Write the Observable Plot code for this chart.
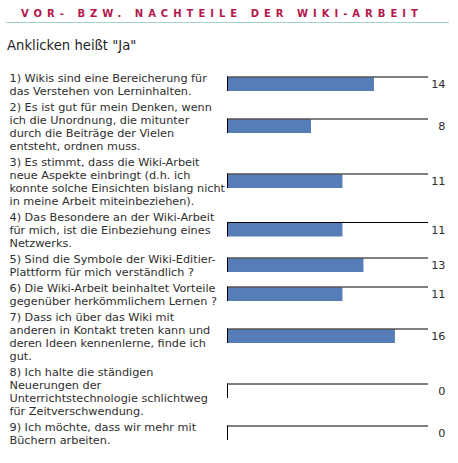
<!DOCTYPE html>
<html>
<head>
<meta charset="utf-8">
<script src="https://cdn.jsdelivr.net/npm/d3@7"></script>
<script src="https://cdn.jsdelivr.net/npm/@observablehq/plot@0.6"></script>
<style>
  body { margin: 0; background: #fff; font-family: "DejaVu Sans", Verdana, sans-serif; }
  #page { position: relative; width: 458px; height: 463px; overflow: hidden; }
  #title {
    position: absolute; left: 21px; top: 8px;
    font-size: 10px; font-weight: bold; letter-spacing: 5px;
    color: #b3174b; white-space: nowrap;
  }
  #rule { position: absolute; left: 6px; top: 22px; width: 443px; height: 1px; background: #a2d2cb; }
  #subtitle { position: absolute; left: 7px; top: 38px; font-size: 13.2px; color: #1e1e1e; }
  #chart { position: absolute; left: 0; top: 0; }
</style>
</head>
<body>
<div id="page">
  <div id="chart"></div>
  <div id="title">VOR- BZW. NACHTEILE DER WIKI-ARBEIT</div>
  <div id="rule"></div>
  <div id="subtitle">Anklicken heißt "Ja"</div>
</div>
<script>
// Fragen (eine Zeile pro Array-Eintrag, wie im Original umbrochen)
const questions = [
  ["1) Wikis sind eine Bereicherung für", "das Verstehen von Lerninhalten."],
  ["2) Es ist gut für mein Denken, wenn", "ich die Unordnung, die mitunter", "durch die Beiträge der Vielen", "entsteht, ordnen muss."],
  ["3) Es stimmt, dass die Wiki-Arbeit", "neue Aspekte einbringt (d.h. ich", "konnte solche Einsichten bislang nicht", "in meine Arbeit miteinbeziehen)."],
  ["4) Das Besondere an der Wiki-Arbeit", "für mich, ist die Einbeziehung eines", "Netzwerks."],
  ["5) Sind die Symbole der Wiki-Editier-", "Plattform für mich verständlich ?"],
  ["6) Die Wiki-Arbeit beinhaltet Vorteile", "gegenüber herkömmlichem Lernen ?"],
  ["7) Dass ich über das Wiki mit", "anderen in Kontakt treten kann und", "deren Ideen kennenlerne, finde ich", "gut."],
  ["8) Ich halte die ständigen", "Neuerungen der", "Unterrichtstechnologie schlichtweg", "für Zeitverschwendung."],
  ["9) Ich möchte, dass wir mehr mit", "Büchern arbeiten."]
];
// Anzahl "Ja"-Klicks
const answers = [14, 8, 11, 11, 13, 11, 16, 0, 0];
const maxValue = 19.15;

// each row is as tall as its text block (13px per line + 3px padding)
const linePx = 13;
const fontPx = 11.25;
let acc = 0;
const rows = questions.map((lines, i) => {
  const h = lines.length * linePx + 3;
  const c = acc + h / 2;
  acc += h;
  return {label: lines.join("\n"), value: answers[i], c, top: c - 7.5, b1: c - 6.5, b2: c + 7};
});
const total = acc;

const chart = Plot.plot({
  width: 458,
  height: 463,
  marginLeft: 227,
  marginRight: 30,
  marginTop: 0,
  marginBottom: 0,
  x: {domain: [0, maxValue], axis: null},
  y: {domain: [0, total], range: [69.5, 69.5 + total], axis: null},
  style: {
    "font-family": "DejaVu Sans, Verdana, sans-serif",
    "font-size": fontPx + "px",
    color: "#2e2e2e",
    background: "transparent"
  },
  marks: [
    Plot.rect(rows, {x1: 0, x2: "value", y1: "b1", y2: "b2", fill: "#567db7"}),
    Plot.ruleY(rows, {y: "top", x1: 0, x2: maxValue, stroke: "#000", strokeWidth: 1}),
    Plot.ruleX(rows, {x: 0, y1: "top", y2: "b2", stroke: "#000", strokeWidth: 1}),
    Plot.text(rows, {
      text: "label", y: "c", frameAnchor: "left", dx: -218,
      textAnchor: "start", lineAnchor: "middle", lineHeight: linePx / fontPx,
      fill: "#2e2e2e"
    }),
    Plot.text(rows, {
      text: "value", y: "c", frameAnchor: "right", dx: 17,
      textAnchor: "end", lineAnchor: "middle", fill: "#2e2e2e"
    })
  ]
});
document.getElementById("chart").append(chart);
</script>
</body>
</html>
